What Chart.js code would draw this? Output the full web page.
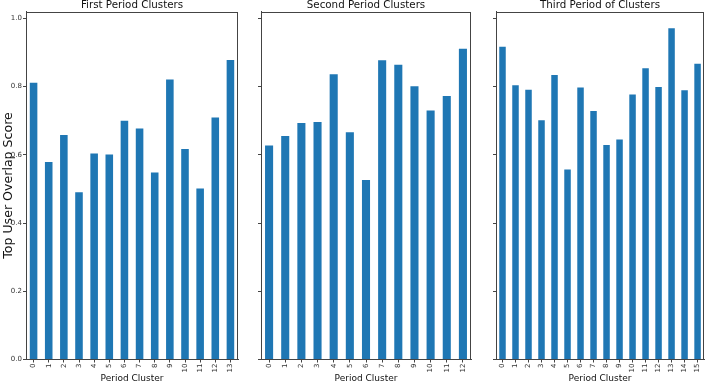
<!DOCTYPE html>
<html>
<head>
<meta charset="utf-8">
<script src="https://cdn.jsdelivr.net/npm/chart.js@4/dist/chart.umd.min.js"></script>
<style>
  html, body { margin: 0; padding: 0; background: #fff; overflow: hidden; width: 707px; height: 383px; }
  #wrap { position: relative; width: 707px; height: 383px; overflow: hidden; }
  canvas { position: absolute; top: 0; }
</style>
</head>
<body>
<div id="wrap">
  <canvas id="c1" width="250" height="383" style="left:0px"></canvas>
  <canvas id="c2" width="235" height="383" style="left:250px"></canvas>
  <canvas id="c3" width="222" height="383" style="left:485px"></canvas>
</div>
<script>
// ---- data ----
const titles = ['First Period Clusters', 'Second Period Clusters', 'Third Period of Clusters'];
const categories1 = ['0','1','2','3','4','5','6','7','8','9','10','11','12','13'];
const categories2 = ['0','1','2','3','4','5','6','7','8','9','10','11','12'];
const categories3 = ['0','1','2','3','4','5','6','7','8','9','10','11','12','13','14','15'];
const values1 = [0.811, 0.579, 0.658, 0.490, 0.604, 0.601, 0.700, 0.677, 0.548, 0.821, 0.617, 0.501, 0.709, 0.878];
const values2 = [0.627, 0.655, 0.693, 0.696, 0.836, 0.666, 0.526, 0.877, 0.864, 0.801, 0.730, 0.772, 0.911];
const values3 = [0.917, 0.804, 0.791, 0.701, 0.834, 0.557, 0.797, 0.728, 0.629, 0.645, 0.777, 0.854, 0.799, 0.971, 0.789, 0.867];
const yTicks = [0.0, 0.2, 0.4, 0.6, 0.8, 1.0];
const yMax = 1.02;
const xTitle = 'Period Cluster';
const yTitle = 'Top User Overlap Score';

const FONT = "'DejaVu Sans', sans-serif";
const AX = '#444';
const TXT = '#333';

// frame around each plot area + panel title centred over the plot area
const frame = {
  id: 'frame',
  afterDraw(chart, args, opts) {
    const a = chart.chartArea, ctx = chart.ctx;
    ctx.save();
    ctx.strokeStyle = AX;
    ctx.lineWidth = 1;
    ctx.strokeRect(Math.round(a.left) + 0.5, Math.round(a.top) + 0.5,
                   Math.round(a.right - a.left) - 1, Math.round(a.bottom - a.top) - 1);
    ctx.fillStyle = '#111';
    ctx.font = "10.3px 'DejaVu Sans', sans-serif";
    ctx.textAlign = 'center';
    ctx.textBaseline = 'alphabetic';
    ctx.fillText(opts.text, (a.left + a.right) / 2, 8.4);
    ctx.restore();
  }
};

function make(id, title, cats, vals, yWidth, rightPad, showY) {
  new Chart(document.getElementById(id), {
    type: 'bar',
    data: {
      labels: cats,
      datasets: [{
        data: vals,
        backgroundColor: '#1f77b4',
        borderWidth: 0,
        categoryPercentage: 1.0,
        barPercentage: 0.5
      }]
    },
    plugins: [frame],
    options: {
      responsive: false,
      animation: false,
      devicePixelRatio: 1,
      layout: { padding: { left: 0, right: rightPad, top: 11.5, bottom: 0 } },
      plugins: {
        legend: { display: false },
        tooltip: { enabled: false },
        title: { display: false },
        frame: { text: title }
      },
      scales: {
        x: {
          type: 'category',
          offset: true,
          grid: { display: true, drawOnChartArea: false, drawTicks: true, tickLength: 3, color: AX, offset: false },
          border: { display: true, color: AX },
          ticks: { color: TXT, font: { family: FONT, size: 7 }, minRotation: 90, maxRotation: 90, autoSkip: false, padding: 1 },
          title: { display: true, text: xTitle, color: '#111', font: { family: FONT, size: 9, lineHeight: 1 }, padding: { top: 0, bottom: 0 } },
          afterFit(s) { s.height = 23.5; }
        },
        y: {
          min: 0,
          max: yMax,
          afterBuildTicks(s) { s.ticks = yTicks.map(v => ({ value: v })); },
          grid: { display: true, drawOnChartArea: false, drawTicks: true, tickLength: 3, color: AX },
          border: { display: true, color: AX },
          ticks: { display: showY, color: TXT, font: { family: FONT, size: 7 }, padding: 1, callback: v => Number(v).toFixed(1) },
          title: { display: showY, text: yTitle, color: '#111', font: { family: FONT, size: 12.6, lineHeight: 1 }, padding: { top: 2.2, bottom: 0 } },
          afterFit(s) { s.width = yWidth; }
        }
      }
    }
  });
}

make('c1', titles[0], categories1, values1, 26, 12, true);
make('c2', titles[1], categories2, values2, 11, 14, false);
make('c3', titles[2], categories3, values3, 11, 1, false);
</script>
</body>
</html>
